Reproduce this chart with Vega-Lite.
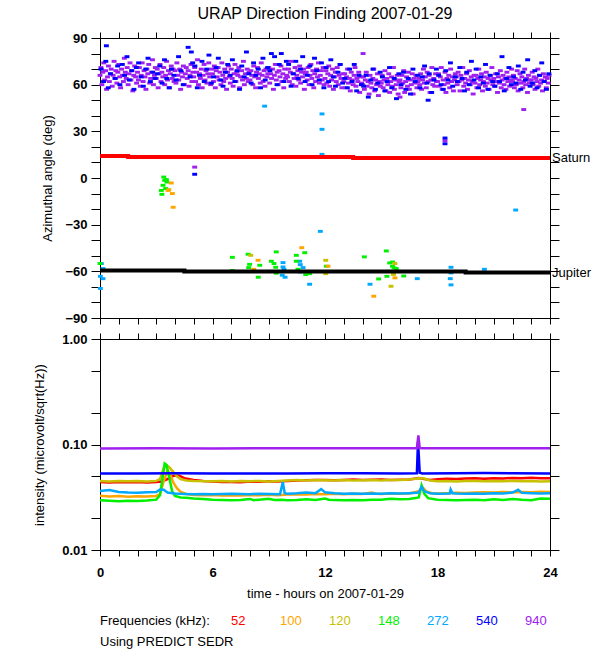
{
"$schema":"https://vega.github.io/schema/vega-lite/v6.json",
"autosize":{"type":"pad"},
"padding":{"left":33,"top":5,"right":0,"bottom":0},
"background":"white",
"title":{"text":"URAP Direction Finding  2007-01-29","fontSize":16,"fontWeight":"normal","font":"Liberation Sans","anchor":"middle","frame":"group","offset":10,"color":"black"},
"datasets":{
"scatter":[
{"t":0,"a":66,"f":"940"},{"t":0.05,"a":71,"f":"940"},{"t":0.1,"a":60,"f":"940"},{"t":0.15,"a":68,"f":"940"},{"t":0.2,"a":74,"f":"940"},{"t":0.25,"a":63,"f":"940"},{"t":0.3,"a":69,"f":"940"},{"t":0.35,"a":57,"f":"940"},{"t":0.4,"a":65,"f":"940"},{"t":0.45,"a":72,"f":"940"},{"t":0.5,"a":62,"f":"940"},{"t":0.55,"a":67,"f":"940"},{"t":0.6,"a":70,"f":"940"},{"t":0.65,"a":59,"f":"940"},{"t":0.7,"a":66,"f":"940"},{"t":0.75,"a":75,"f":"940"},{"t":0.8,"a":64,"f":"940"},{"t":0.85,"a":69,"f":"940"},{"t":0.9,"a":61,"f":"940"},{"t":0.95,"a":68,"f":"940"},
{"t":1,"a":73,"f":"940"},{"t":1.05,"a":65,"f":"940"},{"t":1.1,"a":58,"f":"940"},{"t":1.15,"a":70,"f":"940"},{"t":1.2,"a":66,"f":"940"},{"t":1.25,"a":62,"f":"940"},{"t":1.3,"a":77,"f":"940"},{"t":1.35,"a":68,"f":"940"},{"t":1.4,"a":64,"f":"940"},{"t":1.45,"a":71,"f":"940"},{"t":1.5,"a":60,"f":"940"},{"t":1.55,"a":67,"f":"940"},{"t":1.6,"a":74,"f":"940"},{"t":1.65,"a":63,"f":"940"},{"t":1.7,"a":69,"f":"940"},{"t":1.75,"a":56,"f":"940"},{"t":1.8,"a":66,"f":"940"},{"t":1.85,"a":72,"f":"940"},{"t":1.9,"a":65,"f":"940"},{"t":1.95,"a":61,"f":"940"},
{"t":2,"a":68,"f":"940"},{"t":2.05,"a":63,"f":"940"},{"t":2.1,"a":71,"f":"940"},{"t":2.15,"a":59,"f":"940"},{"t":2.2,"a":66,"f":"940"},{"t":2.25,"a":74,"f":"940"},{"t":2.3,"a":62,"f":"940"},{"t":2.35,"a":69,"f":"940"},{"t":2.4,"a":65,"f":"940"},{"t":2.45,"a":57,"f":"940"},{"t":2.5,"a":70,"f":"940"},{"t":2.55,"a":67,"f":"940"},{"t":2.6,"a":73,"f":"940"},{"t":2.65,"a":61,"f":"940"},{"t":2.7,"a":64,"f":"940"},{"t":2.75,"a":68,"f":"940"},{"t":2.8,"a":76,"f":"940"},{"t":2.85,"a":60,"f":"940"},{"t":2.9,"a":66,"f":"940"},{"t":2.95,"a":71,"f":"940"},
{"t":3,"a":64,"f":"940"},{"t":3.05,"a":70,"f":"940"},{"t":3.1,"a":58,"f":"940"},{"t":3.15,"a":67,"f":"940"},{"t":3.2,"a":73,"f":"940"},{"t":3.25,"a":62,"f":"940"},{"t":3.3,"a":68,"f":"940"},{"t":3.35,"a":65,"f":"940"},{"t":3.4,"a":71,"f":"940"},{"t":3.45,"a":60,"f":"940"},{"t":3.5,"a":66,"f":"940"},{"t":3.55,"a":75,"f":"940"},{"t":3.6,"a":63,"f":"940"},{"t":3.65,"a":69,"f":"940"},{"t":3.7,"a":58,"f":"940"},{"t":3.75,"a":67,"f":"940"},{"t":3.8,"a":72,"f":"940"},{"t":3.85,"a":64,"f":"940"},{"t":3.9,"a":70,"f":"940"},{"t":3.95,"a":62,"f":"940"},
{"t":4,"a":69,"f":"940"},{"t":4.05,"a":61,"f":"940"},{"t":4.1,"a":74,"f":"940"},{"t":4.15,"a":66,"f":"940"},{"t":4.2,"a":63,"f":"940"},{"t":4.25,"a":70,"f":"940"},{"t":4.3,"a":57,"f":"940"},{"t":4.35,"a":68,"f":"940"},{"t":4.4,"a":65,"f":"940"},{"t":4.45,"a":72,"f":"940"},{"t":4.5,"a":60,"f":"940"},{"t":4.55,"a":67,"f":"940"},{"t":4.6,"a":71,"f":"940"},{"t":4.65,"a":64,"f":"940"},{"t":4.7,"a":69,"f":"940"},{"t":4.75,"a":59,"f":"940"},{"t":4.8,"a":66,"f":"940"},{"t":4.85,"a":73,"f":"940"},{"t":4.9,"a":62,"f":"940"},{"t":4.95,"a":68,"f":"940"},
{"t":5,"a":65,"f":"940"},{"t":5.05,"a":71,"f":"940"},{"t":5.1,"a":62,"f":"940"},{"t":5.15,"a":68,"f":"940"},{"t":5.2,"a":76,"f":"940"},{"t":5.25,"a":60,"f":"940"},{"t":5.3,"a":67,"f":"940"},{"t":5.35,"a":64,"f":"940"},{"t":5.4,"a":70,"f":"940"},{"t":5.45,"a":58,"f":"940"},{"t":5.5,"a":66,"f":"940"},{"t":5.55,"a":73,"f":"940"},{"t":5.6,"a":63,"f":"940"},{"t":5.65,"a":69,"f":"940"},{"t":5.7,"a":61,"f":"940"},{"t":5.75,"a":67,"f":"940"},{"t":5.8,"a":74,"f":"940"},{"t":5.85,"a":65,"f":"940"},{"t":5.9,"a":60,"f":"940"},{"t":5.95,"a":70,"f":"940"},
{"t":6,"a":67,"f":"940"},{"t":6.05,"a":62,"f":"940"},{"t":6.1,"a":72,"f":"940"},{"t":6.15,"a":58,"f":"940"},{"t":6.2,"a":69,"f":"940"},{"t":6.25,"a":65,"f":"940"},{"t":6.3,"a":71,"f":"940"},{"t":6.35,"a":63,"f":"940"},{"t":6.4,"a":68,"f":"940"},{"t":6.45,"a":60,"f":"940"},{"t":6.5,"a":74,"f":"940"},{"t":6.55,"a":66,"f":"940"},{"t":6.6,"a":62,"f":"940"},{"t":6.65,"a":70,"f":"940"},{"t":6.7,"a":64,"f":"940"},{"t":6.75,"a":57,"f":"940"},{"t":6.8,"a":68,"f":"940"},{"t":6.85,"a":72,"f":"940"},{"t":6.9,"a":65,"f":"940"},{"t":6.95,"a":61,"f":"940"},
{"t":7,"a":70,"f":"940"},{"t":7.05,"a":64,"f":"940"},{"t":7.1,"a":59,"f":"940"},{"t":7.15,"a":67,"f":"940"},{"t":7.2,"a":73,"f":"940"},{"t":7.25,"a":62,"f":"940"},{"t":7.3,"a":68,"f":"940"},{"t":7.35,"a":66,"f":"940"},{"t":7.4,"a":71,"f":"940"},{"t":7.45,"a":58,"f":"940"},{"t":7.5,"a":65,"f":"940"},{"t":7.55,"a":69,"f":"940"},{"t":7.6,"a":63,"f":"940"},{"t":7.65,"a":75,"f":"940"},{"t":7.7,"a":60,"f":"940"},{"t":7.75,"a":67,"f":"940"},{"t":7.8,"a":64,"f":"940"},{"t":7.85,"a":70,"f":"940"},{"t":7.9,"a":62,"f":"940"},{"t":7.95,"a":68,"f":"940"},
{"t":8,"a":63,"f":"940"},{"t":8.05,"a":69,"f":"940"},{"t":8.1,"a":66,"f":"940"},{"t":8.15,"a":60,"f":"940"},{"t":8.2,"a":72,"f":"940"},{"t":8.25,"a":65,"f":"940"},{"t":8.3,"a":58,"f":"940"},{"t":8.35,"a":68,"f":"940"},{"t":8.4,"a":71,"f":"940"},{"t":8.45,"a":64,"f":"940"},{"t":8.5,"a":67,"f":"940"},{"t":8.55,"a":61,"f":"940"},{"t":8.6,"a":74,"f":"940"},{"t":8.65,"a":66,"f":"940"},{"t":8.7,"a":62,"f":"940"},{"t":8.75,"a":69,"f":"940"},{"t":8.8,"a":59,"f":"940"},{"t":8.85,"a":70,"f":"940"},{"t":8.9,"a":65,"f":"940"},{"t":8.95,"a":67,"f":"940"},
{"t":9,"a":71,"f":"940"},{"t":9.05,"a":61,"f":"940"},{"t":9.1,"a":67,"f":"940"},{"t":9.15,"a":64,"f":"940"},{"t":9.2,"a":70,"f":"940"},{"t":9.25,"a":57,"f":"940"},{"t":9.3,"a":66,"f":"940"},{"t":9.35,"a":73,"f":"940"},{"t":9.4,"a":63,"f":"940"},{"t":9.45,"a":68,"f":"940"},{"t":9.5,"a":60,"f":"940"},{"t":9.55,"a":69,"f":"940"},{"t":9.6,"a":65,"f":"940"},{"t":9.65,"a":72,"f":"940"},{"t":9.7,"a":62,"f":"940"},{"t":9.75,"a":67,"f":"940"},{"t":9.8,"a":58,"f":"940"},{"t":9.85,"a":70,"f":"940"},{"t":9.9,"a":64,"f":"940"},{"t":9.95,"a":66,"f":"940"},
{"t":10,"a":65,"f":"940"},{"t":10.05,"a":70,"f":"940"},{"t":10.1,"a":62,"f":"940"},{"t":10.15,"a":68,"f":"940"},{"t":10.2,"a":75,"f":"940"},{"t":10.25,"a":60,"f":"940"},{"t":10.3,"a":67,"f":"940"},{"t":10.35,"a":64,"f":"940"},{"t":10.4,"a":71,"f":"940"},{"t":10.45,"a":59,"f":"940"},{"t":10.5,"a":66,"f":"940"},{"t":10.55,"a":69,"f":"940"},{"t":10.6,"a":63,"f":"940"},{"t":10.65,"a":72,"f":"940"},{"t":10.7,"a":61,"f":"940"},{"t":10.75,"a":68,"f":"940"},{"t":10.8,"a":65,"f":"940"},{"t":10.85,"a":70,"f":"940"},{"t":10.9,"a":57,"f":"940"},{"t":10.95,"a":67,"f":"940"},
{"t":11,"a":68,"f":"940"},{"t":11.05,"a":63,"f":"940"},{"t":11.1,"a":71,"f":"940"},{"t":11.15,"a":60,"f":"940"},{"t":11.2,"a":66,"f":"940"},{"t":11.25,"a":73,"f":"940"},{"t":11.3,"a":64,"f":"940"},{"t":11.35,"a":69,"f":"940"},{"t":11.4,"a":58,"f":"940"},{"t":11.45,"a":67,"f":"940"},{"t":11.5,"a":62,"f":"940"},{"t":11.55,"a":70,"f":"940"},{"t":11.6,"a":65,"f":"940"},{"t":11.65,"a":74,"f":"940"},{"t":11.7,"a":61,"f":"940"},{"t":11.75,"a":66,"f":"940"},{"t":11.8,"a":69,"f":"940"},{"t":11.85,"a":63,"f":"940"},{"t":11.9,"a":71,"f":"940"},{"t":11.95,"a":60,"f":"940"},
{"t":12,"a":64,"f":"940"},{"t":12.05,"a":69,"f":"940"},{"t":12.1,"a":61,"f":"940"},{"t":12.15,"a":67,"f":"940"},{"t":12.2,"a":72,"f":"940"},{"t":12.25,"a":59,"f":"940"},{"t":12.3,"a":66,"f":"940"},{"t":12.35,"a":63,"f":"940"},{"t":12.4,"a":70,"f":"940"},{"t":12.45,"a":57,"f":"940"},{"t":12.5,"a":65,"f":"940"},{"t":12.55,"a":68,"f":"940"},{"t":12.6,"a":62,"f":"940"},{"t":12.65,"a":71,"f":"940"},{"t":12.7,"a":60,"f":"940"},{"t":12.75,"a":66,"f":"940"},{"t":12.8,"a":73,"f":"940"},{"t":12.85,"a":64,"f":"940"},{"t":12.9,"a":58,"f":"940"},{"t":12.95,"a":67,"f":"940"},
{"t":13,"a":62,"f":"940"},{"t":13.05,"a":67,"f":"940"},{"t":13.1,"a":58,"f":"940"},{"t":13.15,"a":65,"f":"940"},{"t":13.2,"a":70,"f":"940"},{"t":13.25,"a":61,"f":"940"},{"t":13.3,"a":64,"f":"940"},{"t":13.35,"a":56,"f":"940"},{"t":13.4,"a":68,"f":"940"},{"t":13.45,"a":63,"f":"940"},{"t":13.5,"a":60,"f":"940"},{"t":13.55,"a":66,"f":"940"},{"t":13.6,"a":71,"f":"940"},{"t":13.65,"a":59,"f":"940"},{"t":13.7,"a":64,"f":"940"},{"t":13.75,"a":62,"f":"940"},{"t":13.8,"a":68,"f":"940"},{"t":13.85,"a":55,"f":"940"},{"t":13.9,"a":65,"f":"940"},{"t":13.95,"a":61,"f":"940"},
{"t":14,"a":60,"f":"940"},{"t":14.05,"a":65,"f":"940"},{"t":14.1,"a":57,"f":"940"},{"t":14.15,"a":63,"f":"940"},{"t":14.2,"a":68,"f":"940"},{"t":14.25,"a":59,"f":"940"},{"t":14.3,"a":62,"f":"940"},{"t":14.35,"a":54,"f":"940"},{"t":14.4,"a":66,"f":"940"},{"t":14.45,"a":61,"f":"940"},{"t":14.5,"a":58,"f":"940"},{"t":14.55,"a":64,"f":"940"},{"t":14.6,"a":70,"f":"940"},{"t":14.65,"a":56,"f":"940"},{"t":14.7,"a":63,"f":"940"},{"t":14.75,"a":60,"f":"940"},{"t":14.8,"a":67,"f":"940"},{"t":14.85,"a":53,"f":"940"},{"t":14.9,"a":62,"f":"940"},{"t":14.95,"a":59,"f":"940"},
{"t":15,"a":61,"f":"940"},{"t":15.05,"a":66,"f":"940"},{"t":15.1,"a":58,"f":"940"},{"t":15.15,"a":63,"f":"940"},{"t":15.2,"a":69,"f":"940"},{"t":15.25,"a":56,"f":"940"},{"t":15.3,"a":64,"f":"940"},{"t":15.35,"a":60,"f":"940"},{"t":15.4,"a":67,"f":"940"},{"t":15.45,"a":55,"f":"940"},{"t":15.5,"a":62,"f":"940"},{"t":15.55,"a":65,"f":"940"},{"t":15.6,"a":59,"f":"940"},{"t":15.65,"a":71,"f":"940"},{"t":15.7,"a":57,"f":"940"},{"t":15.75,"a":63,"f":"940"},{"t":15.8,"a":60,"f":"940"},{"t":15.85,"a":66,"f":"940"},{"t":15.9,"a":54,"f":"940"},{"t":15.95,"a":62,"f":"940"},
{"t":16,"a":63,"f":"940"},{"t":16.05,"a":58,"f":"940"},{"t":16.1,"a":66,"f":"940"},{"t":16.15,"a":61,"f":"940"},{"t":16.2,"a":69,"f":"940"},{"t":16.25,"a":55,"f":"940"},{"t":16.3,"a":62,"f":"940"},{"t":16.35,"a":65,"f":"940"},{"t":16.4,"a":59,"f":"940"},{"t":16.45,"a":68,"f":"940"},{"t":16.5,"a":57,"f":"940"},{"t":16.55,"a":63,"f":"940"},{"t":16.6,"a":60,"f":"940"},{"t":16.65,"a":67,"f":"940"},{"t":16.7,"a":54,"f":"940"},{"t":16.75,"a":64,"f":"940"},{"t":16.8,"a":61,"f":"940"},{"t":16.85,"a":66,"f":"940"},{"t":16.9,"a":58,"f":"940"},{"t":16.95,"a":62,"f":"940"},
{"t":17,"a":64,"f":"940"},{"t":17.05,"a":60,"f":"940"},{"t":17.1,"a":67,"f":"940"},{"t":17.15,"a":57,"f":"940"},{"t":17.2,"a":63,"f":"940"},{"t":17.25,"a":70,"f":"940"},{"t":17.3,"a":61,"f":"940"},{"t":17.35,"a":65,"f":"940"},{"t":17.4,"a":58,"f":"940"},{"t":17.45,"a":68,"f":"940"},{"t":17.5,"a":62,"f":"940"},{"t":17.55,"a":66,"f":"940"},{"t":17.6,"a":55,"f":"940"},{"t":17.65,"a":63,"f":"940"},{"t":17.7,"a":71,"f":"940"},{"t":17.75,"a":60,"f":"940"},{"t":17.8,"a":64,"f":"940"},{"t":17.85,"a":59,"f":"940"},{"t":17.9,"a":67,"f":"940"},{"t":17.95,"a":62,"f":"940"},
{"t":18,"a":62,"f":"940"},{"t":18.05,"a":67,"f":"940"},{"t":18.1,"a":59,"f":"940"},{"t":18.15,"a":65,"f":"940"},{"t":18.2,"a":71,"f":"940"},{"t":18.25,"a":57,"f":"940"},{"t":18.3,"a":63,"f":"940"},{"t":18.35,"a":60,"f":"940"},{"t":18.4,"a":68,"f":"940"},{"t":18.45,"a":55,"f":"940"},{"t":18.5,"a":64,"f":"940"},{"t":18.55,"a":61,"f":"940"},{"t":18.6,"a":66,"f":"940"},{"t":18.65,"a":58,"f":"940"},{"t":18.7,"a":70,"f":"940"},{"t":18.75,"a":62,"f":"940"},{"t":18.8,"a":65,"f":"940"},{"t":18.85,"a":56,"f":"940"},{"t":18.9,"a":63,"f":"940"},{"t":18.95,"a":67,"f":"940"},
{"t":19,"a":65,"f":"940"},{"t":19.05,"a":60,"f":"940"},{"t":19.1,"a":68,"f":"940"},{"t":19.15,"a":62,"f":"940"},{"t":19.2,"a":56,"f":"940"},{"t":19.25,"a":66,"f":"940"},{"t":19.3,"a":63,"f":"940"},{"t":19.35,"a":71,"f":"940"},{"t":19.4,"a":59,"f":"940"},{"t":19.45,"a":64,"f":"940"},{"t":19.5,"a":61,"f":"940"},{"t":19.55,"a":67,"f":"940"},{"t":19.6,"a":57,"f":"940"},{"t":19.65,"a":63,"f":"940"},{"t":19.7,"a":69,"f":"940"},{"t":19.75,"a":60,"f":"940"},{"t":19.8,"a":65,"f":"940"},{"t":19.85,"a":62,"f":"940"},{"t":19.9,"a":54,"f":"940"},{"t":19.95,"a":66,"f":"940"},
{"t":20,"a":61,"f":"940"},{"t":20.05,"a":66,"f":"940"},{"t":20.1,"a":58,"f":"940"},{"t":20.15,"a":64,"f":"940"},{"t":20.2,"a":70,"f":"940"},{"t":20.25,"a":60,"f":"940"},{"t":20.3,"a":63,"f":"940"},{"t":20.35,"a":67,"f":"940"},{"t":20.4,"a":56,"f":"940"},{"t":20.45,"a":62,"f":"940"},{"t":20.5,"a":65,"f":"940"},{"t":20.55,"a":59,"f":"940"},{"t":20.6,"a":68,"f":"940"},{"t":20.65,"a":61,"f":"940"},{"t":20.7,"a":64,"f":"940"},{"t":20.75,"a":57,"f":"940"},{"t":20.8,"a":66,"f":"940"},{"t":20.85,"a":63,"f":"940"},{"t":20.9,"a":71,"f":"940"},{"t":20.95,"a":60,"f":"940"},
{"t":21,"a":64,"f":"940"},{"t":21.05,"a":59,"f":"940"},{"t":21.1,"a":67,"f":"940"},{"t":21.15,"a":62,"f":"940"},{"t":21.2,"a":55,"f":"940"},{"t":21.25,"a":65,"f":"940"},{"t":21.3,"a":61,"f":"940"},{"t":21.35,"a":69,"f":"940"},{"t":21.4,"a":58,"f":"940"},{"t":21.45,"a":63,"f":"940"},{"t":21.5,"a":66,"f":"940"},{"t":21.55,"a":60,"f":"940"},{"t":21.6,"a":64,"f":"940"},{"t":21.65,"a":57,"f":"940"},{"t":21.7,"a":68,"f":"940"},{"t":21.75,"a":62,"f":"940"},{"t":21.8,"a":65,"f":"940"},{"t":21.85,"a":59,"f":"940"},{"t":21.9,"a":63,"f":"940"},{"t":21.95,"a":70,"f":"940"},
{"t":22,"a":62,"f":"940"},{"t":22.05,"a":66,"f":"940"},{"t":22.1,"a":58,"f":"940"},{"t":22.15,"a":64,"f":"940"},{"t":22.2,"a":60,"f":"940"},{"t":22.25,"a":69,"f":"940"},{"t":22.3,"a":56,"f":"940"},{"t":22.35,"a":63,"f":"940"},{"t":22.4,"a":67,"f":"940"},{"t":22.45,"a":61,"f":"940"},{"t":22.5,"a":65,"f":"940"},{"t":22.55,"a":58,"f":"940"},{"t":22.6,"a":62,"f":"940"},{"t":22.65,"a":70,"f":"940"},{"t":22.7,"a":60,"f":"940"},{"t":22.75,"a":64,"f":"940"},{"t":22.8,"a":55,"f":"940"},{"t":22.85,"a":66,"f":"940"},{"t":22.9,"a":61,"f":"940"},{"t":22.95,"a":63,"f":"940"},
{"t":23,"a":63,"f":"940"},{"t":23.05,"a":68,"f":"940"},{"t":23.1,"a":60,"f":"940"},{"t":23.15,"a":65,"f":"940"},{"t":23.2,"a":57,"f":"940"},{"t":23.25,"a":64,"f":"940"},{"t":23.3,"a":62,"f":"940"},{"t":23.35,"a":70,"f":"940"},{"t":23.4,"a":59,"f":"940"},{"t":23.45,"a":66,"f":"940"},{"t":23.5,"a":61,"f":"940"},{"t":23.55,"a":63,"f":"940"},{"t":23.6,"a":56,"f":"940"},{"t":23.65,"a":67,"f":"940"},{"t":23.7,"a":62,"f":"940"},{"t":23.75,"a":65,"f":"940"},{"t":23.8,"a":58,"f":"940"},{"t":23.85,"a":64,"f":"940"},{"t":23.9,"a":61,"f":"940"},{"t":23.95,"a":66,"f":"940"},
{"t":14.03,"a":80,"f":"940"},{"t":16.0,"a":52,"f":"940"},{"t":22.6,"a":44,"f":"940"},{"t":5.05,"a":7,"f":"940"},{"t":18.4,"a":24,"f":"940"},
{"t":0.06,"a":70,"f":"540"},{"t":0.19,"a":62,"f":"540"},{"t":0.31,"a":75,"f":"540"},{"t":0.44,"a":58,"f":"540"},{"t":0.56,"a":67,"f":"540"},{"t":0.34,"a":85,"f":"540"},{"t":0.81,"a":64,"f":"540"},{"t":0.94,"a":72,"f":"540"},
{"t":1.06,"a":60,"f":"540"},{"t":1.19,"a":73,"f":"540"},{"t":1.31,"a":66,"f":"540"},{"t":1.44,"a":78,"f":"540"},{"t":1.56,"a":63,"f":"540"},{"t":1.69,"a":69,"f":"540"},{"t":1.81,"a":57,"f":"540"},{"t":1.94,"a":71,"f":"540"},
{"t":2.06,"a":74,"f":"540"},{"t":2.19,"a":65,"f":"540"},{"t":2.31,"a":59,"f":"540"},{"t":2.44,"a":70,"f":"540"},{"t":2.56,"a":77,"f":"540"},{"t":2.69,"a":62,"f":"540"},{"t":2.81,"a":68,"f":"540"},{"t":2.94,"a":64,"f":"540"},
{"t":3.06,"a":67,"f":"540"},{"t":3.19,"a":72,"f":"540"},{"t":3.31,"a":61,"f":"540"},{"t":3.44,"a":76,"f":"540"},{"t":3.56,"a":64,"f":"540"},{"t":3.69,"a":58,"f":"540"},{"t":3.81,"a":70,"f":"540"},{"t":3.94,"a":66,"f":"540"},
{"t":4.06,"a":63,"f":"540"},{"t":4.19,"a":78,"f":"540"},{"t":4.31,"a":69,"f":"540"},{"t":4.44,"a":60,"f":"540"},{"t":4.7,"a":84,"f":"540"},{"t":4.87,"a":81,"f":"540"},{"t":4.81,"a":65,"f":"540"},{"t":4.94,"a":74,"f":"540"},
{"t":5.06,"a":72,"f":"540"},{"t":5.19,"a":58,"f":"540"},{"t":5.31,"a":66,"f":"540"},{"t":5.44,"a":75,"f":"540"},{"t":5.56,"a":62,"f":"540"},{"t":5.69,"a":70,"f":"540"},{"t":5.81,"a":79,"f":"540"},{"t":5.94,"a":61,"f":"540"},
{"t":6.06,"a":65,"f":"540"},{"t":6.19,"a":71,"f":"540"},{"t":6.31,"a":77,"f":"540"},{"t":6.44,"a":63,"f":"540"},{"t":6.56,"a":59,"f":"540"},{"t":6.69,"a":68,"f":"540"},{"t":6.81,"a":73,"f":"540"},{"t":6.94,"a":66,"f":"540"},
{"t":7.06,"a":76,"f":"540"},{"t":7.19,"a":62,"f":"540"},{"t":7.31,"a":69,"f":"540"},{"t":7.44,"a":57,"f":"540"},{"t":7.56,"a":72,"f":"540"},{"t":7.69,"a":65,"f":"540"},{"t":7.81,"a":81,"f":"540"},{"t":7.94,"a":67,"f":"540"},
{"t":8.06,"a":61,"f":"540"},{"t":8.19,"a":74,"f":"540"},{"t":8.31,"a":66,"f":"540"},{"t":8.44,"a":70,"f":"540"},{"t":8.56,"a":58,"f":"540"},{"t":8.69,"a":77,"f":"540"},{"t":8.81,"a":63,"f":"540"},{"t":8.94,"a":71,"f":"540"},
{"t":9.06,"a":69,"f":"540"},{"t":9.14,"a":80,"f":"540"},{"t":9.31,"a":78,"f":"540"},{"t":9.44,"a":60,"f":"540"},{"t":9.56,"a":73,"f":"540"},{"t":9.67,"a":80,"f":"540"},{"t":9.81,"a":62,"f":"540"},{"t":9.94,"a":75,"f":"540"},
{"t":10.06,"a":73,"f":"540"},{"t":10.19,"a":59,"f":"540"},{"t":10.31,"a":67,"f":"540"},{"t":10.44,"a":75,"f":"540"},{"t":10.56,"a":64,"f":"540"},{"t":10.69,"a":70,"f":"540"},{"t":10.81,"a":78,"f":"540"},{"t":10.94,"a":62,"f":"540"},
{"t":11.06,"a":66,"f":"540"},{"t":11.19,"a":72,"f":"540"},{"t":11.31,"a":60,"f":"540"},{"t":11.44,"a":77,"f":"540"},{"t":11.56,"a":69,"f":"540"},{"t":11.69,"a":63,"f":"540"},{"t":11.81,"a":74,"f":"540"},{"t":11.94,"a":58,"f":"540"},
{"t":12.06,"a":71,"f":"540"},{"t":12.19,"a":62,"f":"540"},{"t":12.31,"a":76,"f":"540"},{"t":12.44,"a":65,"f":"540"},{"t":12.56,"a":59,"f":"540"},{"t":12.69,"a":68,"f":"540"},{"t":12.81,"a":73,"f":"540"},{"t":12.94,"a":61,"f":"540"},
{"t":13.06,"a":64,"f":"540"},{"t":13.19,"a":58,"f":"540"},{"t":13.31,"a":70,"f":"540"},{"t":13.44,"a":62,"f":"540"},{"t":13.56,"a":73,"f":"540"},{"t":13.69,"a":56,"f":"540"},{"t":13.81,"a":66,"f":"540"},{"t":13.94,"a":60,"f":"540"},
{"t":14.06,"a":59,"f":"540"},{"t":14.19,"a":66,"f":"540"},{"t":14.31,"a":52,"f":"540"},{"t":14.44,"a":63,"f":"540"},{"t":14.56,"a":70,"f":"540"},{"t":14.69,"a":57,"f":"540"},{"t":14.81,"a":61,"f":"540"},{"t":14.94,"a":68,"f":"540"},
{"t":15.06,"a":65,"f":"540"},{"t":15.19,"a":56,"f":"540"},{"t":15.31,"a":62,"f":"540"},{"t":15.44,"a":71,"f":"540"},{"t":15.56,"a":58,"f":"540"},{"t":15.69,"a":64,"f":"540"},{"t":15.81,"a":51,"f":"540"},{"t":15.94,"a":67,"f":"540"},
{"t":16.06,"a":60,"f":"540"},{"t":16.19,"a":68,"f":"540"},{"t":16.31,"a":57,"f":"540"},{"t":16.44,"a":64,"f":"540"},{"t":16.56,"a":54,"f":"540"},{"t":16.69,"a":70,"f":"540"},{"t":16.81,"a":62,"f":"540"},{"t":16.94,"a":66,"f":"540"},
{"t":17.06,"a":58,"f":"540"},{"t":17.19,"a":65,"f":"540"},{"t":17.31,"a":72,"f":"540"},{"t":17.44,"a":61,"f":"540"},{"t":17.56,"a":67,"f":"540"},{"t":17.69,"a":55,"f":"540"},{"t":17.81,"a":63,"f":"540"},{"t":17.94,"a":70,"f":"540"},
{"t":18.06,"a":66,"f":"540"},{"t":18.19,"a":60,"f":"540"},{"t":18.31,"a":57,"f":"540"},{"t":18.44,"a":69,"f":"540"},{"t":18.56,"a":63,"f":"540"},{"t":18.69,"a":74,"f":"540"},{"t":18.81,"a":59,"f":"540"},{"t":18.94,"a":65,"f":"540"},
{"t":19.06,"a":62,"f":"540"},{"t":19.19,"a":71,"f":"540"},{"t":19.31,"a":64,"f":"540"},{"t":19.44,"a":56,"f":"540"},{"t":19.56,"a":68,"f":"540"},{"t":19.69,"a":60,"f":"540"},{"t":19.81,"a":75,"f":"540"},{"t":19.94,"a":63,"f":"540"},
{"t":20.06,"a":70,"f":"540"},{"t":20.19,"a":58,"f":"540"},{"t":20.31,"a":65,"f":"540"},{"t":20.44,"a":61,"f":"540"},{"t":20.56,"a":73,"f":"540"},{"t":20.69,"a":57,"f":"540"},{"t":20.81,"a":66,"f":"540"},{"t":20.94,"a":62,"f":"540"},
{"t":21.06,"a":59,"f":"540"},{"t":21.19,"a":67,"f":"540"},{"t":21.31,"a":62,"f":"540"},{"t":21.44,"a":78,"f":"540"},{"t":21.56,"a":56,"f":"540"},{"t":21.69,"a":64,"f":"540"},{"t":21.81,"a":71,"f":"540"},{"t":21.94,"a":60,"f":"540"},
{"t":22.06,"a":65,"f":"540"},{"t":22.19,"a":61,"f":"540"},{"t":22.31,"a":72,"f":"540"},{"t":22.44,"a":57,"f":"540"},{"t":22.56,"a":68,"f":"540"},{"t":22.69,"a":63,"f":"540"},{"t":22.81,"a":76,"f":"540"},{"t":22.94,"a":59,"f":"540"},
{"t":23.06,"a":61,"f":"540"},{"t":23.19,"a":69,"f":"540"},{"t":23.31,"a":58,"f":"540"},{"t":23.44,"a":66,"f":"540"},{"t":23.56,"a":74,"f":"540"},{"t":23.69,"a":62,"f":"540"},{"t":23.81,"a":57,"f":"540"},{"t":23.94,"a":67,"f":"540"},
{"t":5.05,"a":2.4,"f":"540"},{"t":18.4,"a":25.7,"f":"540"},{"t":18.4,"a":22,"f":"540"},{"t":17.5,"a":50,"f":"540"},
{"t":8.78,"a":46.2,"f":"272"},{"t":11.84,"a":41.2,"f":"272"},{"t":11.84,"a":31.3,"f":"272"},{"t":11.84,"a":15.2,"f":"272"},{"t":11.75,"a":-34.3,"f":"272"},{"t":22.17,"a":-20.6,"f":"272"},
{"t":0.07,"a":-55,"f":"272"},{"t":0.16,"a":-58.2,"f":"272"},{"t":0.02,"a":-63.2,"f":"272"},{"t":0.16,"a":-64.7,"f":"272"},{"t":0.02,"a":-71,"f":"272"},
{"t":9.76,"a":-54.4,"f":"272"},{"t":9.76,"a":-57.2,"f":"272"},{"t":9.81,"a":-58.7,"f":"272"},{"t":9.72,"a":-62.5,"f":"272"},{"t":9.87,"a":-63.8,"f":"272"},
{"t":10.65,"a":-53.5,"f":"272"},{"t":10.68,"a":-55.7,"f":"272"},{"t":10.68,"a":-60.4,"f":"272"},{"t":10.83,"a":-57.6,"f":"272"},{"t":11.18,"a":-68.3,"f":"272"},{"t":11.15,"a":-60.4,"f":"272"},
{"t":14.4,"a":-68.3,"f":"272"},{"t":16.92,"a":-64.7,"f":"272"},{"t":18.72,"a":-57.4,"f":"272"},{"t":18.72,"a":-61,"f":"272"},{"t":18.68,"a":-64.7,"f":"272"},{"t":18.72,"a":-68.7,"f":"272"},{"t":20.5,"a":-58.7,"f":"272"},
{"t":0,"a":-55,"f":"148"},{"t":3.4,"a":0.6,"f":"148"},{"t":3.45,"a":-1.5,"f":"148"},{"t":3.54,"a":-1,"f":"148"},{"t":3.36,"a":-4.7,"f":"148"},{"t":3.27,"a":-8,"f":"148"},{"t":3.3,"a":-10.5,"f":"148"},{"t":3.5,"a":-6.8,"f":"148"},{"t":3.57,"a":-2.6,"f":"148"},
{"t":7.06,"a":-51,"f":"148"},{"t":7.06,"a":-59.5,"f":"148"},{"t":7.9,"a":-49,"f":"148"},{"t":7.98,"a":-55.5,"f":"148"},{"t":7.93,"a":-57.6,"f":"148"},{"t":8.52,"a":-56.1,"f":"148"},{"t":8.44,"a":-63.8,"f":"148"},
{"t":9.14,"a":-53.5,"f":"148"},{"t":9.28,"a":-55,"f":"148"},{"t":9.37,"a":-57.4,"f":"148"},{"t":9.14,"a":-60,"f":"148"},{"t":9.4,"a":-61.2,"f":"148"},{"t":9.4,"a":-47.5,"f":"148"},
{"t":10.47,"a":-49.7,"f":"148"},{"t":10.47,"a":-53.5,"f":"148"},{"t":10.56,"a":-58.7,"f":"148"},{"t":10.92,"a":-48,"f":"148"},{"t":10.97,"a":-62.1,"f":"148"},{"t":11.18,"a":-61.5,"f":"148"},
{"t":12.07,"a":-56.7,"f":"148"},{"t":14.1,"a":-50.7,"f":"148"},{"t":14.86,"a":-64.9,"f":"148"},{"t":15.27,"a":-46.9,"f":"148"},{"t":15.45,"a":-54.6,"f":"148"},{"t":15.6,"a":-54,"f":"148"},{"t":15.6,"a":-56.7,"f":"148"},{"t":15.68,"a":-57.8,"f":"148"},{"t":15.4,"a":-60,"f":"148"},{"t":15.3,"a":-63.2,"f":"148"},{"t":15.8,"a":-58.2,"f":"148"},{"t":16.2,"a":-63,"f":"148"},
{"t":3.67,"a":-7.5,"f":"120"},{"t":8.04,"a":-49.7,"f":"120"},{"t":12.04,"a":-52.9,"f":"120"},{"t":12.04,"a":-61.5,"f":"120"},{"t":15.73,"a":-55,"f":"120"},{"t":15.65,"a":-62,"f":"120"},{"t":15.52,"a":-69.6,"f":"120"},
{"t":3.8,"a":-3.2,"f":"100"},{"t":3.63,"a":-8,"f":"100"},{"t":3.86,"a":-10,"f":"100"},{"t":3.9,"a":-18.8,"f":"100"},{"t":8.2,"a":-58.7,"f":"100"},{"t":8.43,"a":-52.9,"f":"100"},{"t":10.76,"a":-44.8,"f":"100"},{"t":12.16,"a":-56.7,"f":"100"},{"t":14.6,"a":-76,"f":"100"},{"t":15.73,"a":-64.2,"f":"100"}
],
"planets":[
{"planet":"Saturn","t":0,"a":14.2},{"planet":"Saturn","t":1.5,"a":13.5},{"planet":"Saturn","t":13.5,"a":12.9},{"planet":"Saturn","t":24,"a":12.9},
{"planet":"Jupiter","t":0,"a":-59.5},{"planet":"Jupiter","t":4.5,"a":-60.1},{"planet":"Jupiter","t":19.5,"a":-60.8},{"planet":"Jupiter","t":24,"a":-60.8}
],
"intensity":[
{"t":0,"v":0.044,"f":"52"},{"t":0.5,"v":0.0436,"f":"52"},{"t":1,"v":0.0442,"f":"52"},{"t":1.5,"v":0.0438,"f":"52"},{"t":2,"v":0.044,"f":"52"},{"t":2.5,"v":0.0436,"f":"52"},{"t":3,"v":0.044,"f":"52"},{"t":3.3,"v":0.0445,"f":"52"},{"t":3.6,"v":0.047,"f":"52"},{"t":3.9,"v":0.0505,"f":"52"},{"t":4.2,"v":0.0508,"f":"52"},{"t":4.5,"v":0.048,"f":"52"},{"t":5,"v":0.0462,"f":"52"},{"t":5.5,"v":0.045,"f":"52"},{"t":6,"v":0.0446,"f":"52"},{"t":6.5,"v":0.044,"f":"52"},{"t":7,"v":0.0442,"f":"52"},{"t":7.5,"v":0.0438,"f":"52"},{"t":8,"v":0.0445,"f":"52"},{"t":8.5,"v":0.0443,"f":"52"},{"t":9,"v":0.0448,"f":"52"},{"t":9.5,"v":0.0446,"f":"52"},{"t":10,"v":0.0452,"f":"52"},{"t":10.5,"v":0.0455,"f":"52"},{"t":11,"v":0.0458,"f":"52"},{"t":11.5,"v":0.046,"f":"52"},{"t":12,"v":0.0462,"f":"52"},{"t":12.5,"v":0.0458,"f":"52"},{"t":13,"v":0.0462,"f":"52"},{"t":13.5,"v":0.0465,"f":"52"},{"t":14,"v":0.046,"f":"52"},{"t":14.5,"v":0.0463,"f":"52"},{"t":15,"v":0.0466,"f":"52"},{"t":15.5,"v":0.0462,"f":"52"},{"t":16,"v":0.0464,"f":"52"},{"t":16.5,"v":0.0466,"f":"52"},{"t":17,"v":0.048,"f":"52"},{"t":17.3,"v":0.047,"f":"52"},{"t":17.6,"v":0.0462,"f":"52"},{"t":18,"v":0.0468,"f":"52"},{"t":18.5,"v":0.0474,"f":"52"},{"t":19,"v":0.047,"f":"52"},{"t":19.5,"v":0.0476,"f":"52"},{"t":20,"v":0.0478,"f":"52"},{"t":20.5,"v":0.0474,"f":"52"},{"t":21,"v":0.048,"f":"52"},{"t":21.5,"v":0.0476,"f":"52"},{"t":22,"v":0.0482,"f":"52"},{"t":22.5,"v":0.0478,"f":"52"},{"t":23,"v":0.0484,"f":"52"},{"t":23.5,"v":0.048,"f":"52"},{"t":24,"v":0.0478,"f":"52"},
{"t":0,"v":0.0326,"f":"100"},{"t":0.5,"v":0.0322,"f":"100"},{"t":1,"v":0.0325,"f":"100"},{"t":1.5,"v":0.032,"f":"100"},{"t":2,"v":0.0323,"f":"100"},{"t":2.5,"v":0.0321,"f":"100"},{"t":3,"v":0.0325,"f":"100"},{"t":3.2,"v":0.034,"f":"100"},{"t":3.4,"v":0.045,"f":"100"},{"t":3.6,"v":0.056,"f":"100"},{"t":3.75,"v":0.052,"f":"100"},{"t":3.9,"v":0.044,"f":"100"},{"t":4.1,"v":0.0385,"f":"100"},{"t":4.3,"v":0.0355,"f":"100"},{"t":4.6,"v":0.034,"f":"100"},{"t":5,"v":0.0333,"f":"100"},{"t":5.5,"v":0.033,"f":"100"},{"t":6,"v":0.0332,"f":"100"},{"t":6.5,"v":0.0328,"f":"100"},{"t":7,"v":0.0331,"f":"100"},{"t":7.5,"v":0.0329,"f":"100"},{"t":8,"v":0.0332,"f":"100"},{"t":8.5,"v":0.033,"f":"100"},{"t":9,"v":0.0334,"f":"100"},{"t":9.5,"v":0.0331,"f":"100"},{"t":10,"v":0.0335,"f":"100"},{"t":10.5,"v":0.0338,"f":"100"},{"t":11,"v":0.0336,"f":"100"},{"t":11.5,"v":0.034,"f":"100"},{"t":12,"v":0.0337,"f":"100"},{"t":12.5,"v":0.0341,"f":"100"},{"t":13,"v":0.0338,"f":"100"},{"t":13.5,"v":0.0342,"f":"100"},{"t":14,"v":0.034,"f":"100"},{"t":14.5,"v":0.035,"f":"100"},{"t":14.7,"v":0.0342,"f":"100"},{"t":15,"v":0.034,"f":"100"},{"t":15.5,"v":0.0343,"f":"100"},{"t":16,"v":0.0341,"f":"100"},{"t":16.5,"v":0.0344,"f":"100"},{"t":17,"v":0.036,"f":"100"},{"t":17.2,"v":0.0395,"f":"100"},{"t":17.4,"v":0.036,"f":"100"},{"t":17.7,"v":0.0345,"f":"100"},{"t":18,"v":0.0343,"f":"100"},{"t":18.5,"v":0.0346,"f":"100"},{"t":19,"v":0.0349,"f":"100"},{"t":19.5,"v":0.0347,"f":"100"},{"t":20,"v":0.035,"f":"100"},{"t":20.5,"v":0.0352,"f":"100"},{"t":21,"v":0.035,"f":"100"},{"t":21.5,"v":0.0354,"f":"100"},{"t":22,"v":0.0352,"f":"100"},{"t":22.5,"v":0.0355,"f":"100"},{"t":23,"v":0.0353,"f":"100"},{"t":23.5,"v":0.0356,"f":"100"},{"t":24,"v":0.0354,"f":"100"},
{"t":0,"v":0.045,"f":"120"},{"t":0.5,"v":0.0446,"f":"120"},{"t":1,"v":0.0452,"f":"120"},{"t":1.5,"v":0.0448,"f":"120"},{"t":2,"v":0.045,"f":"120"},{"t":2.5,"v":0.0447,"f":"120"},{"t":3,"v":0.0452,"f":"120"},{"t":3.2,"v":0.047,"f":"120"},{"t":3.4,"v":0.06,"f":"120"},{"t":3.55,"v":0.0635,"f":"120"},{"t":3.7,"v":0.061,"f":"120"},{"t":3.9,"v":0.055,"f":"120"},{"t":4.1,"v":0.05,"f":"120"},{"t":4.3,"v":0.047,"f":"120"},{"t":4.6,"v":0.0455,"f":"120"},{"t":5,"v":0.045,"f":"120"},{"t":6,"v":0.0448,"f":"120"},{"t":6.5,"v":0.0452,"f":"120"},{"t":7,"v":0.0446,"f":"120"},{"t":7.5,"v":0.045,"f":"120"},{"t":8,"v":0.0449,"f":"120"},{"t":8.5,"v":0.0452,"f":"120"},{"t":9,"v":0.0447,"f":"120"},{"t":9.5,"v":0.045,"f":"120"},{"t":10,"v":0.0455,"f":"120"},{"t":10.5,"v":0.046,"f":"120"},{"t":11,"v":0.0457,"f":"120"},{"t":11.5,"v":0.0462,"f":"120"},{"t":12,"v":0.0458,"f":"120"},{"t":12.5,"v":0.0455,"f":"120"},{"t":13,"v":0.046,"f":"120"},{"t":13.5,"v":0.0456,"f":"120"},{"t":14,"v":0.0458,"f":"120"},{"t":14.5,"v":0.0462,"f":"120"},{"t":15,"v":0.0457,"f":"120"},{"t":15.5,"v":0.046,"f":"120"},{"t":16,"v":0.0462,"f":"120"},{"t":16.5,"v":0.0465,"f":"120"},{"t":17,"v":0.0478,"f":"120"},{"t":17.3,"v":0.0475,"f":"120"},{"t":17.6,"v":0.0455,"f":"120"},{"t":18,"v":0.0448,"f":"120"},{"t":18.5,"v":0.045,"f":"120"},{"t":19,"v":0.0447,"f":"120"},{"t":19.5,"v":0.045,"f":"120"},{"t":20,"v":0.0452,"f":"120"},{"t":20.5,"v":0.0448,"f":"120"},{"t":21,"v":0.0451,"f":"120"},{"t":21.5,"v":0.0449,"f":"120"},{"t":22,"v":0.0452,"f":"120"},{"t":22.5,"v":0.0448,"f":"120"},{"t":23,"v":0.045,"f":"120"},{"t":23.5,"v":0.0447,"f":"120"},{"t":24,"v":0.0449,"f":"120"},
{"t":0,"v":0.0296,"f":"148"},{"t":0.5,"v":0.0293,"f":"148"},{"t":1,"v":0.029,"f":"148"},{"t":1.5,"v":0.0293,"f":"148"},{"t":2,"v":0.0291,"f":"148"},{"t":2.5,"v":0.0294,"f":"148"},{"t":3,"v":0.03,"f":"148"},{"t":3.2,"v":0.033,"f":"148"},{"t":3.35,"v":0.05,"f":"148"},{"t":3.45,"v":0.066,"f":"148"},{"t":3.55,"v":0.064,"f":"148"},{"t":3.7,"v":0.048,"f":"148"},{"t":3.85,"v":0.036,"f":"148"},{"t":4,"v":0.0325,"f":"148"},{"t":4.3,"v":0.0315,"f":"148"},{"t":4.6,"v":0.0312,"f":"148"},{"t":5,"v":0.0308,"f":"148"},{"t":5.5,"v":0.0305,"f":"148"},{"t":6,"v":0.03,"f":"148"},{"t":6.5,"v":0.0298,"f":"148"},{"t":7,"v":0.0296,"f":"148"},{"t":7.5,"v":0.0298,"f":"148"},{"t":8,"v":0.0305,"f":"148"},{"t":8.2,"v":0.0297,"f":"148"},{"t":8.5,"v":0.03,"f":"148"},{"t":9,"v":0.0306,"f":"148"},{"t":9.3,"v":0.0298,"f":"148"},{"t":9.7,"v":0.03,"f":"148"},{"t":10,"v":0.0296,"f":"148"},{"t":10.5,"v":0.0298,"f":"148"},{"t":11,"v":0.0303,"f":"148"},{"t":11.5,"v":0.0298,"f":"148"},{"t":12,"v":0.0308,"f":"148"},{"t":12.2,"v":0.03,"f":"148"},{"t":12.5,"v":0.0297,"f":"148"},{"t":13,"v":0.0296,"f":"148"},{"t":13.5,"v":0.0298,"f":"148"},{"t":14,"v":0.0296,"f":"148"},{"t":14.5,"v":0.0299,"f":"148"},{"t":15,"v":0.03,"f":"148"},{"t":15.5,"v":0.0306,"f":"148"},{"t":16,"v":0.0302,"f":"148"},{"t":16.5,"v":0.0305,"f":"148"},{"t":17,"v":0.0315,"f":"148"},{"t":17.15,"v":0.041,"f":"148"},{"t":17.3,"v":0.034,"f":"148"},{"t":17.5,"v":0.031,"f":"148"},{"t":18,"v":0.03,"f":"148"},{"t":18.5,"v":0.0298,"f":"148"},{"t":19,"v":0.0296,"f":"148"},{"t":19.5,"v":0.0298,"f":"148"},{"t":20,"v":0.03,"f":"148"},{"t":20.5,"v":0.0297,"f":"148"},{"t":21,"v":0.0302,"f":"148"},{"t":21.5,"v":0.0298,"f":"148"},{"t":22,"v":0.0305,"f":"148"},{"t":22.5,"v":0.03,"f":"148"},{"t":23,"v":0.0297,"f":"148"},{"t":23.5,"v":0.0308,"f":"148"},{"t":24,"v":0.0306,"f":"148"},
{"t":0,"v":0.0362,"f":"272"},{"t":0.5,"v":0.037,"f":"272"},{"t":1,"v":0.0355,"f":"272"},{"t":1.5,"v":0.035,"f":"272"},{"t":2,"v":0.0348,"f":"272"},{"t":2.5,"v":0.0352,"f":"272"},{"t":3,"v":0.0355,"f":"272"},{"t":3.2,"v":0.0375,"f":"272"},{"t":3.4,"v":0.0372,"f":"272"},{"t":3.6,"v":0.035,"f":"272"},{"t":4,"v":0.0343,"f":"272"},{"t":4.5,"v":0.034,"f":"272"},{"t":5,"v":0.0338,"f":"272"},{"t":5.5,"v":0.034,"f":"272"},{"t":6,"v":0.0337,"f":"272"},{"t":6.5,"v":0.0339,"f":"272"},{"t":7,"v":0.0341,"f":"272"},{"t":7.5,"v":0.034,"f":"272"},{"t":8,"v":0.0338,"f":"272"},{"t":8.5,"v":0.0342,"f":"272"},{"t":9,"v":0.034,"f":"272"},{"t":9.6,"v":0.0338,"f":"272"},{"t":9.75,"v":0.044,"f":"272"},{"t":9.85,"v":0.0345,"f":"272"},{"t":10,"v":0.0342,"f":"272"},{"t":10.5,"v":0.0345,"f":"272"},{"t":11,"v":0.035,"f":"272"},{"t":11.5,"v":0.0346,"f":"272"},{"t":11.8,"v":0.0378,"f":"272"},{"t":12,"v":0.0352,"f":"272"},{"t":12.5,"v":0.0345,"f":"272"},{"t":13,"v":0.0342,"f":"272"},{"t":13.5,"v":0.0344,"f":"272"},{"t":14,"v":0.0341,"f":"272"},{"t":14.5,"v":0.0343,"f":"272"},{"t":15,"v":0.0342,"f":"272"},{"t":15.5,"v":0.0345,"f":"272"},{"t":16,"v":0.0343,"f":"272"},{"t":16.5,"v":0.0346,"f":"272"},{"t":17,"v":0.035,"f":"272"},{"t":17.15,"v":0.0395,"f":"272"},{"t":17.3,"v":0.036,"f":"272"},{"t":17.6,"v":0.0345,"f":"272"},{"t":18,"v":0.0342,"f":"272"},{"t":18.65,"v":0.0343,"f":"272"},{"t":18.7,"v":0.0375,"f":"272"},{"t":18.8,"v":0.0345,"f":"272"},{"t":19,"v":0.0343,"f":"272"},{"t":19.5,"v":0.0341,"f":"272"},{"t":20,"v":0.0344,"f":"272"},{"t":20.5,"v":0.0342,"f":"272"},{"t":21,"v":0.0345,"f":"272"},{"t":21.5,"v":0.0343,"f":"272"},{"t":22,"v":0.035,"f":"272"},{"t":22.3,"v":0.0372,"f":"272"},{"t":22.5,"v":0.0348,"f":"272"},{"t":23,"v":0.0345,"f":"272"},{"t":23.5,"v":0.0343,"f":"272"},{"t":24,"v":0.0346,"f":"272"},
{"t":0,"v":0.0532,"f":"540"},{"t":2,"v":0.053,"f":"540"},{"t":4,"v":0.0533,"f":"540"},{"t":6,"v":0.0531,"f":"540"},{"t":8,"v":0.0532,"f":"540"},{"t":10,"v":0.053,"f":"540"},{"t":12,"v":0.0533,"f":"540"},{"t":14,"v":0.0534,"f":"540"},{"t":16,"v":0.0532,"f":"540"},{"t":16.9,"v":0.0533,"f":"540"},{"t":16.96,"v":0.105,"f":"540"},{"t":17,"v":0.08,"f":"540"},{"t":17.05,"v":0.054,"f":"540"},{"t":17.2,"v":0.0532,"f":"540"},{"t":19,"v":0.0533,"f":"540"},{"t":20.5,"v":0.0536,"f":"540"},{"t":22,"v":0.0533,"f":"540"},{"t":24,"v":0.0532,"f":"540"},
{"t":0,"v":0.0918,"f":"940"},{"t":3,"v":0.092,"f":"940"},{"t":6,"v":0.0918,"f":"940"},{"t":9,"v":0.092,"f":"940"},{"t":12,"v":0.0919,"f":"940"},{"t":15,"v":0.0921,"f":"940"},{"t":16.9,"v":0.092,"f":"940"},{"t":16.98,"v":0.122,"f":"940"},{"t":17.05,"v":0.0925,"f":"940"},{"t":17.2,"v":0.092,"f":"940"},{"t":20,"v":0.0919,"f":"940"},{"t":24,"v":0.092,"f":"940"}
]
},
"vconcat":[
{
"width":450,"height":280,
"layer":[
{"data":{"name":"scatter"},
 "mark":{"type":"point","filled":true,"shape":"M-1,-0.6H1V0.6H-1Z","size":24,"opacity":1,"strokeWidth":0},
 "encoding":{
  "x":{"field":"t","type":"quantitative","scale":{"domain":[0,24],"nice":false,"zero":false},
       "axis":{"orient":"bottom","values":[0,1,2,3,4,5,6,7,8,9,10,11,12,13,14,15,16,17,18,19,20,21,22,23,24],"labels":false,"title":null,"tickSize":6,"encode":{"ticks":{"update":{"y2":{"signal":"datum.value % 6 === 0 ? 6 : 3"}}}}}},
  "y":{"field":"a","type":"quantitative","scale":{"domain":[-90,90],"nice":false,"zero":false},
       "axis":{"orient":"left","values":[-90,-80,-70,-60,-50,-40,-30,-20,-10,0,10,20,30,40,50,60,70,80,90],"labelExpr":"datum.value % 30 === 0 ? datum.label : ''","title":"Azimuthal angle (deg)","tickSize":9,"labelPadding":4,"titlePadding":10,"encode":{"ticks":{"update":{"x2":{"signal":"datum.value % 30 === 0 ? -9 : -5"}}}}}},
  "color":{"field":"f","type":"nominal","scale":{"domain":["52","100","120","148","272","540","940"],"range":["#ff0000","#ffa500","#c8c000","#00f000","#00a8ff","#0000ff","#a020f0"]},
       "legend":{"title":"Frequencies (kHz):","encode":{"labels":{"update":{"fill":{"scale":"color","field":"value"}}}}}}
 }},
{"data":{"name":"planets"},
 "mark":{"type":"line","interpolate":"step-after","strokeWidth":4},
 "encoding":{
  "x":{"field":"t","type":"quantitative","axis":{"orient":"top","values":[0,1,2,3,4,5,6,7,8,9,10,11,12,13,14,15,16,17,18,19,20,21,22,23,24],"labels":false,"title":null,"tickSize":6,"encode":{"ticks":{"update":{"y2":{"signal":"datum.value % 6 === 0 ? -6 : -3"}}}}}},
  "y":{"field":"a","type":"quantitative","axis":{"orient":"right","values":[-90,-80,-70,-60,-50,-40,-30,-20,-10,0,10,20,30,40,50,60,70,80,90],"labels":false,"title":null,"tickSize":9,"encode":{"ticks":{"update":{"x2":{"signal":"datum.value % 30 === 0 ? 9 : 6"}}}}}},
  "stroke":{"field":"planet","type":"nominal","scale":{"domain":["Saturn","Jupiter"],"range":["#ff0000","#000000"]},"legend":null}
 }},
{"data":{"name":"planets"},
 "transform":[{"filter":"datum.t === 24"}],
 "mark":{"type":"text","align":"left","baseline":"middle","dx":2,"fontSize":13,"font":"Liberation Sans","color":"black"},
 "encoding":{
  "x":{"field":"t","type":"quantitative","axis":null},
  "y":{"field":"a","type":"quantitative","axis":null},
  "text":{"field":"planet"}
 }}
],
"resolve":{"axis":{"x":"independent","y":"independent"}}
},
{
"width":450,"height":211,
"data":{"name":"intensity"},
"title":{"text":"Using PREDICT SEDR","orient":"bottom","anchor":"start","frame":"group","offset":36,"fontSize":13,"fontWeight":"normal","font":"Liberation Sans","color":"black"},
"layer":[
{"transform":[{"filter":{"field":"f","oneOf":["52","100","120","148"]}}],
 "mark":{"type":"line","strokeWidth":2.5},
 "encoding":{
  "x":{"field":"t","type":"quantitative","scale":{"domain":[0,24],"nice":false,"zero":false},
       "axis":{"orient":"bottom","values":[0,1,2,3,4,5,6,7,8,9,10,11,12,13,14,15,16,17,18,19,20,21,22,23,24],"format":"d","labelExpr":"datum.value % 6 === 0 ? datum.label : ''","title":"time - hours on 2007-01-29","tickSize":6,"labelPadding":10,"titlePadding":8,"encode":{"ticks":{"update":{"y2":{"signal":"datum.value % 6 === 0 ? 6 : 3"}}}}}},
  "y":{"field":"v","type":"quantitative","scale":{"type":"log","domain":[0.01,1],"nice":false},
       "axis":{"orient":"left","values":[0.01,0.02,0.05,0.1,0.2,0.5,1],"labelExpr":"indexof([0.01,0.1,1], datum.value) >= 0 ? format(datum.value, '.2f') : ''","title":"intensity (microvolt/sqrt(Hz))","tickSize":9,"labelPadding":4,"titlePadding":15,"encode":{"ticks":{"update":{"x2":{"signal":"indexof([0.01,0.1,1], datum.value) >= 0 ? -9 : -5"}}}}}},
  "color":{"field":"f","type":"nominal","scale":{"domain":["52","100","120","148","272","540","940"],"range":["#ff0000","#ffa500","#c8c000","#00f000","#00a8ff","#0000ff","#a020f0"]},
       "legend":{"title":"Frequencies (kHz):","encode":{"labels":{"update":{"fill":{"scale":"color","field":"value"}}}}}}
 }},
{"transform":[{"filter":{"field":"f","oneOf":["272","540","940"]}}],
 "mark":{"type":"line","strokeWidth":2.5},
 "encoding":{
  "x":{"field":"t","type":"quantitative","axis":{"orient":"top","values":[0,1,2,3,4,5,6,7,8,9,10,11,12,13,14,15,16,17,18,19,20,21,22,23,24],"labels":false,"title":null,"tickSize":6,"encode":{"ticks":{"update":{"y2":{"signal":"datum.value % 6 === 0 ? -6 : -3"}}}}}},
  "y":{"field":"v","type":"quantitative","axis":{"orient":"right","values":[0.01,0.02,0.05,0.1,0.2,0.5,1],"labels":false,"title":null,"tickSize":9,"encode":{"ticks":{"update":{"x2":{"signal":"indexof([0.01,0.1,1], datum.value) >= 0 ? 9 : 6"}}}}}},
  "color":{"field":"f","type":"nominal","scale":{"domain":["52","100","120","148","272","540","940"],"range":["#ff0000","#ffa500","#c8c000","#00f000","#00a8ff","#0000ff","#a020f0"]},
       "legend":{"title":"Frequencies (kHz):","encode":{"labels":{"update":{"fill":{"scale":"color","field":"value"}}}}}}
 }}
],
"resolve":{"axis":{"x":"independent","y":"independent"}}
}
],
"spacing":21,
"bounds":"flush",
"resolve":{"scale":{"color":"shared"}},
"config":{
 "view":{"stroke":null},
 "font":"Liberation Sans",
 "axis":{"domainColor":"black","tickColor":"black","labelColor":"black","titleColor":"black","grid":false,"labelFont":"Liberation Sans","labelFontSize":13,"labelFontWeight":"bold","titleFont":"Liberation Sans","titleFontSize":13,"titleFontWeight":"normal","labelFlush":false,"labelOverlap":false,"domainWidth":1,"tickWidth":1},
 "legend":{"orient":"none","legendX":0,"legendY":576,"direction":"horizontal","titleOrient":"left","titleFont":"Liberation Sans","titleFontSize":13,"titleFontWeight":"normal","titleColor":"black","titlePadding":8,"labelFont":"Liberation Sans","labelFontSize":13,"labelFontWeight":"normal","symbolSize":0,"symbolOpacity":0,"symbolStrokeWidth":0,"labelOffset":0,"columnPadding":14,"gridAlign":"all","padding":0,"labelLimit":60}
}
}
